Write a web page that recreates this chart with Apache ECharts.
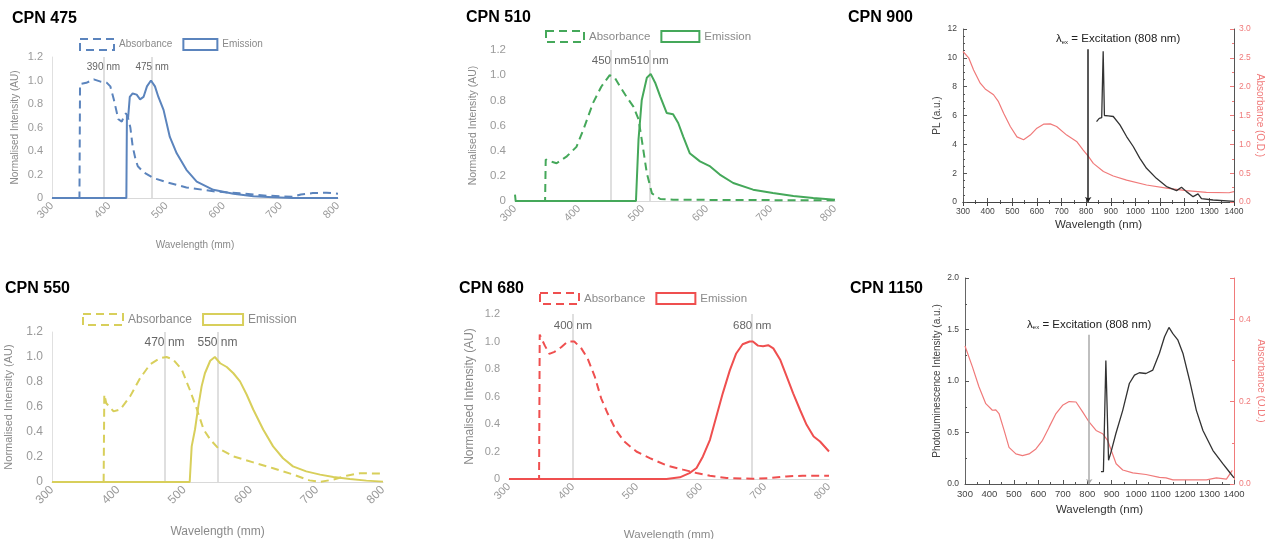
<!DOCTYPE html>
<html>
<head>
<meta charset="utf-8">
<title>CPN spectra</title>
<script src="https://cdn.jsdelivr.net/npm/echarts@6/dist/echarts.min.js"></script>
<style>
  html, body { margin: 0; padding: 0; background: #fff; }
  #page { position: relative; width: 1265px; height: 539px; overflow: hidden; }
  .panel { position: absolute; }
</style>
</head>
<body>
<div id="page">
  <div class="panel" id="cpn475" style="left:0;top:0;width:420px;height:268px"></div>
  <div class="panel" id="cpn510" style="left:420px;top:0;width:420px;height:268px"></div>
  <div class="panel" id="cpn900" style="left:840px;top:0;width:425px;height:268px"></div>
  <div class="panel" id="cpn550" style="left:0;top:270px;width:420px;height:269px"></div>
  <div class="panel" id="cpn680" style="left:420px;top:270px;width:420px;height:269px"></div>
  <div class="panel" id="cpn1150" style="left:840px;top:270px;width:425px;height:269px"></div>
</div>
<script>
// [wavelength, value] pairs
const abs475 = [[300,0],[348,0],[349,0.97],[360,0.98],[373,1.01],[385,0.99],[396,0.98],[402,0.95],[408,0.84],[416,0.67],[422,0.65],[426,0.70],[429,0.72],[432,0.70],[437,0.6],[441,0.44],[446,0.33],[450,0.27],[460,0.22],[477,0.17],[500,0.135],[535,0.09],[582,0.057],[628,0.04],[675,0.02],[721,0.01],[735,0.03],[756,0.042],[780,0.045],[800,0.037]];
const em475 = [[300,0],[430,0],[431,0.71],[433,0.68],[436,0.86],[441,0.89],[448,0.88],[454,0.84],[460,0.86],[466,0.95],[473,1.0],[480,0.95],[486,0.86],[495,0.75],[506,0.52],[518,0.38],[535,0.24],[553,0.14],[582,0.07],[617,0.037],[652,0.014],[687,0.006],[721,0],[800,0]];
const peaks475 = [390, 475];

const abs510 = [[300,0],[347,0],[348,0.33],[352,0.32],[365,0.30],[381,0.355],[396,0.43],[407,0.57],[422,0.78],[435,0.91],[448,1.0],[456,0.98],[464,0.91],[474,0.83],[485,0.75],[493,0.65],[498,0.49],[506,0.22],[514,0.06],[527,0.016],[547,0.01],[800,0.005]];
const em510 = [[300,0.05],[301,0],[489,0],[493,0.49],[498,0.8],[506,0.98],[512,1.01],[519,0.94],[527,0.83],[537,0.7],[547,0.69],[555,0.62],[563,0.51],[573,0.38],[589,0.315],[605,0.275],[620,0.21],[641,0.143],[672,0.09],[703,0.064],[735,0.04],[766,0.024],[800,0.01]];
const peaks510 = [450, 510];

const abs550 = [[300,0],[378,0],[379,0.7],[382,0.63],[393,0.565],[403,0.58],[418,0.685],[433,0.83],[448,0.94],[463,0.99],[473,1.0],[483,0.98],[496,0.9],[508,0.74],[519,0.58],[529,0.42],[539,0.34],[551,0.27],[574,0.205],[604,0.157],[634,0.11],[664,0.06],[689,0.013],[705,0],[725,0.02],[745,0.05],[765,0.07],[800,0.067]];
const em550 = [[300,0],[508,0],[511,0.285],[516,0.42],[521,0.605],[526,0.765],[531,0.87],[539,0.97],[546,1.0],[554,0.95],[564,0.92],[574,0.87],[584,0.805],[594,0.7],[604,0.58],[619,0.42],[634,0.285],[649,0.19],[664,0.125],[684,0.085],[705,0.059],[725,0.04],[750,0.024],[775,0.011],[800,0.003]];
const peaks550 = [470, 550];

const abs680 = [[300,0],[347,0],[348,1.05],[356,0.97],[363,0.91],[371,0.925],[382,0.96],[392,1.0],[402,1.0],[413,0.95],[423,0.875],[434,0.745],[444,0.587],[454,0.478],[467,0.357],[480,0.273],[499,0.2],[520,0.152],[546,0.099],[572,0.068],[593,0.043],[614,0.024],[640,0.007],[681,0.002],[707,0.007],[733,0.019],[759,0.024],[800,0.024]];
const em680 = [[300,0],[546,0],[567,0.012],[582,0.043],[593,0.08],[603,0.164],[614,0.285],[624,0.454],[634,0.623],[645,0.79],[655,0.913],[665,0.98],[676,1.0],[681,1.0],[689,0.97],[697,0.966],[705,0.973],[713,0.95],[724,0.865],[734,0.744],[744,0.623],[755,0.5],[765,0.394],[776,0.309],[786,0.273],[800,0.2]];
const peaks680 = [400, 680];

const abs900 = [[300,2.61],[323,2.5],[343,2.29],[370,2.06],[390,1.96],[424,1.86],[444,1.74],[465,1.54],[492,1.31],[519,1.13],[546,1.08],[573,1.16],[600,1.28],[627,1.35],[654,1.355],[680,1.31],[721,1.16],[761,1.05],[788,0.9],[809,0.79],[829,0.67],[870,0.53],[910,0.45],[964,0.38],[1045,0.295],[1126,0.24],[1207,0.197],[1288,0.168],[1380,0.16],[1400,0.18]];
const pl900 = [[842,5.58],[853,5.8],[863,5.85],[869,10.45],[874,6.0],[890,5.98],[910,5.93],[937,5.35],[964,4.54],[991,3.85],[1018,3.03],[1045,2.34],[1085,1.64],[1126,1.07],[1167,0.79],[1187,1.02],[1207,0.72],[1234,0.37],[1254,0.56],[1268,0.23],[1315,0.14],[1400,0.05]];

const abs1150 = [[300,0.335],[330,0.285],[357,0.236],[385,0.195],[412,0.179],[426,0.18],[439,0.171],[460,0.13],[480,0.089],[508,0.073],[535,0.069],[562,0.073],[590,0.085],[617,0.106],[644,0.138],[672,0.171],[699,0.191],[726,0.2],[754,0.199],[781,0.175],[808,0.15],[836,0.13],[863,0.122],[883,0.106],[918,0.049],[945,0.034],[986,0.027],[1040,0.023],[1095,0.016],[1122,0.015],[1150,0.01],[1204,0.01],[1287,0.01],[1328,0.015],[1369,0.012],[1393,0.033]];
const pl1150 = [[856,0.12],[866,0.12],[870,0.13],[876,1.2],[882,1.2],[887,0.23],[897,0.31],[917,0.49],[945,0.715],[972,0.976],[993,1.057],[1013,1.08],[1040,1.073],[1068,1.106],[1095,1.27],[1116,1.43],[1134,1.52],[1150,1.46],[1170,1.40],[1191,1.27],[1218,1.01],[1246,0.715],[1273,0.52],[1314,0.325],[1355,0.195],[1382,0.114],[1400,0.06]];

const excitation = 808;
const font = 'Liberation Sans, Arial, Helvetica, sans-serif';

// excel style panels (normalised absorbance / emission)
function excelChart(id, o) {
  const dash = [8, 5];
  echarts.init(document.getElementById(id)).setOption({
    animation: false,
    textStyle: { fontFamily: font },
    title: { text: o.title, left: o.titleLeft, top: o.titleTop, padding: 0, textStyle: { fontSize: 16, fontWeight: 'bold', color: '#000', fontFamily: font } },
    legend: {
      left: o.legendLeft, top: o.legendTop, padding: 0,
      itemWidth: o.iconW, itemHeight: 11, itemGap: 10,
      textStyle: { color: '#8a8a8a', fontSize: o.legFs },
      data: [
        { name: 'Absorbance', icon: 'rect', itemStyle: { color: 'rgba(0,0,0,0)', borderColor: o.color, borderWidth: 2, borderType: dash } },
        { name: 'Emission', icon: 'rect', itemStyle: { color: 'rgba(0,0,0,0)', borderColor: o.color, borderWidth: 2, borderType: 'solid' } }
      ]
    },
    grid: { left: o.grid[0], top: o.grid[1], width: o.grid[2], height: o.grid[3], outerBoundsMode: 'none' },
    xAxis: {
      type: 'value', min: 300, max: 800, interval: 100,
      axisLine: { show: true, lineStyle: { color: '#d9d9d9', width: 1 } },
      axisTick: { show: false }, splitLine: { show: false },
      axisLabel: { rotate: 45, color: '#9a9a9a', fontSize: o.xFs, margin: 6 },
      name: o.xName, nameLocation: 'middle', nameGap: o.xNameGap, nameMoveOverlap: false,
      nameTextStyle: { color: '#8a8a8a', fontSize: o.xNameFs }
    },
    yAxis: {
      type: 'value', min: 0, max: 1.2, interval: 0.2,
      axisLine: { show: o.yLine, lineStyle: { color: '#e0e0e0' } },
      axisTick: { show: false }, splitLine: { show: false },
      axisLabel: { color: '#9a9a9a', fontSize: o.yFs, margin: 9, formatter: v => v === 0 ? '0' : v.toFixed(1) },
      name: 'Normalised Intensity (AU)', nameLocation: 'middle', nameGap: o.yNameGap, nameMoveOverlap: false,
      nameTextStyle: { color: '#8a8a8a', fontSize: o.yNameFs }
    },
    series: [
      {
        name: 'Absorbance', type: 'line', data: o.abs, symbol: 'none',
        lineStyle: { color: o.color, width: 2, type: dash }, itemStyle: { color: o.color },
        markLine: {
          silent: true, symbol: 'none', z: 1, label: { show: false },
          lineStyle: { color: '#d4d4d4', width: 1.5, type: 'solid' },
          data: o.peaks.map(w => [{ coord: [w, 0] }, { coord: [w, 1.2] }])
        },
        markPoint: {
          silent: true, symbol: 'circle', symbolSize: 1,
          itemStyle: { color: 'rgba(0,0,0,0)' },
          label: { show: true, position: 'inside', formatter: '{b}', color: '#666', fontSize: o.legFs },
          data: o.peaks.map(w => ({ name: w + ' nm', coord: [w, 1.115] }))
        }
      },
      {
        name: 'Emission', type: 'line', data: o.em, symbol: 'none', z: 3,
        lineStyle: { color: o.color, width: 2 }, itemStyle: { color: o.color }
      }
    ]
  });
}

// origin style panels (PL + absorbance on twin axes)
function originChart(id, o) {
  const red = '#f07a7a';
  const xAxes = [{
    type: 'value', min: 300, max: 1400, interval: 100, position: 'bottom',
    axisLine: { lineStyle: { color: '#555' } },
    axisTick: { inside: true, length: 4, lineStyle: { color: '#555' } },
    minorTick: { show: true, splitNumber: 2, length: 2, lineStyle: { color: '#555' } },
    splitLine: { show: false },
    axisLabel: { color: '#444', fontSize: o.xFs, margin: 5, formatter: v => String(v) },
    name: 'Wavelength (nm)', nameLocation: 'middle', nameGap: o.xNameGap, nameMoveOverlap: false,
    nameTextStyle: { color: '#333', fontSize: 11.5 }
  }];
  if (o.topAxis) {
    xAxes.push({
      type: 'value', min: 300, max: 1400, interval: 100, position: 'top',
      axisLine: { lineStyle: { color: '#444' } },
      axisTick: { inside: true, length: 4 }, minorTick: { show: true, splitNumber: 2, length: 2 },
      axisLabel: { show: false }, splitLine: { show: false }
    });
  }
  echarts.init(document.getElementById(id)).setOption({
    animation: false,
    textStyle: { fontFamily: font },
    title: { text: o.title, left: o.titleLeft, top: o.titleTop, padding: 0, textStyle: { fontSize: 16, fontWeight: 'bold', color: '#000', fontFamily: font } },
    grid: { left: o.grid[0], top: o.grid[1], width: o.grid[2], height: o.grid[3], outerBoundsMode: 'none' },
    xAxis: xAxes,
    yAxis: [
      {
        type: 'value', min: 0, max: o.plMax, interval: o.plStep, position: 'left',
        axisLine: { show: true, lineStyle: { color: '#666' } },
        axisTick: { inside: true, length: 4, lineStyle: { color: '#555' } },
        minorTick: { show: true, splitNumber: o.plMinor, length: 2, lineStyle: { color: '#555' } },
        splitLine: { show: false },
        axisLabel: { color: '#444', fontSize: 8.5, margin: 6, formatter: o.plFmt },
        name: o.plName, nameLocation: 'middle', nameGap: o.yNameGap, nameMoveOverlap: false,
        nameTextStyle: { color: '#444', fontSize: 10 }
      },
      {
        type: 'value', min: 0, max: o.absMax, interval: o.absStep, position: 'right',
        axisLine: { show: true, lineStyle: { color: o.rightLine } },
        axisTick: { inside: true, length: 4, lineStyle: { color: red } },
        minorTick: { show: true, splitNumber: 2, length: 2, lineStyle: { color: red } },
        splitLine: { show: false },
        axisLabel: { color: red, fontSize: 8.5, margin: 5, showMaxLabel: o.absShowMax, formatter: v => v.toFixed(1) },
        name: 'Absorbance (O.D.)', nameLocation: 'middle', nameGap: o.absNameGap, nameRotate: -90, nameMoveOverlap: false,
        nameTextStyle: { color: red, fontSize: 10 }
      }
    ],
    series: [
      {
        name: 'Absorbance', type: 'line', data: o.abs, yAxisIndex: 1, symbol: 'none',
        lineStyle: { color: red, width: 1.2 }, itemStyle: { color: red }
      },
      {
        name: 'PL', type: 'line', data: o.pl, yAxisIndex: 0, symbol: 'none', z: 3,
        lineStyle: { color: '#333', width: 1.3 }, itemStyle: { color: '#333' },
        markLine: {
          silent: true, symbol: ['none', 'arrow'], symbolSize: 5,
          lineStyle: { color: o.exColor, width: 1.5, type: 'solid' },
          label: {
            position: 'start', distance: 4, offset: o.exOffset,
            formatter: '{a|λ}{b|ex}{a| = Excitation (808 nm)}',
            rich: {
              a: { fontSize: 11.5, color: '#222', verticalAlign: 'bottom' },
              b: { fontSize: 6, color: '#222', verticalAlign: 'bottom' }
            }
          },
          data: [[{ coord: [excitation, o.exTop] }, { coord: [excitation, 0] }]]
        }
      }
    ]
  });
}

excelChart('cpn475', {
  title: 'CPN 475', titleLeft: 12, titleTop: 11, color: '#5b84bd',
  legendLeft: 79, legendTop: 38, iconW: 34, legFs: 10,
  grid: [52, 57, 286, 141], yLine: true, xFs: 11, yFs: 11,
  xName: 'Wavelength (mm)', xNameGap: 42, xNameFs: 10, yNameGap: 32, yNameFs: 10,
  abs: abs475, em: em475, peaks: peaks475
});
excelChart('cpn510', {
  title: 'CPN 510', titleLeft: 46, titleTop: 10, color: '#45a85a',
  legendLeft: 125, legendTop: 30, iconW: 38, legFs: 11.5,
  grid: [95, 50, 320, 151], yLine: false, xFs: 11, yFs: 11.5,
  xName: '', xNameGap: 44, xNameFs: 11, yNameGap: 36, yNameFs: 10.5,
  abs: abs510, em: em510, peaks: peaks510
});
excelChart('cpn550', {
  title: 'CPN 550', titleLeft: 5, titleTop: 11, color: '#d8cf5b',
  legendLeft: 82, legendTop: 43, iconW: 40, legFs: 12,
  grid: [52, 62, 331, 150], yLine: true, xFs: 12, yFs: 12,
  xName: 'Wavelength (mm)', xNameGap: 44, xNameFs: 12, yNameGap: 38, yNameFs: 11,
  abs: abs550, em: em550, peaks: peaks550
});
excelChart('cpn680', {
  title: 'CPN 680', titleLeft: 39, titleTop: 11, color: '#ef4f4f',
  legendLeft: 119, legendTop: 22, iconW: 39, legFs: 11.5,
  grid: [89, 44, 320, 165], yLine: false, xFs: 11, yFs: 11,
  xName: 'Wavelength (mm)', xNameGap: 50, xNameFs: 11.5, yNameGap: 33, yNameFs: 12,
  abs: abs680, em: em680, peaks: peaks680
});
originChart('cpn900', {
  title: 'CPN 900', titleLeft: 8, titleTop: 10,
  grid: [123, 29, 271, 173], topAxis: true, xFs: 8.5,
  plMax: 12, plStep: 2, plMinor: 4, plFmt: v => String(v), plName: 'PL (a.u.)',
  absMax: 3, absStep: 0.5, absShowMax: true, rightLine: '#555',
  xNameGap: 17, yNameGap: 21, absNameGap: 21,
  exTop: 10.6, exColor: '#222', exOffset: [30, 0],
  abs: abs900, pl: pl900
});
originChart('cpn1150', {
  title: 'CPN 1150', titleLeft: 10, titleTop: 11,
  grid: [125, 8, 269, 206], topAxis: false, xFs: 9.5,
  plMax: 2, plStep: 0.5, plMinor: 2, plFmt: v => v.toFixed(1), plName: 'Photoluminescence Intensity (a.u.)',
  absMax: 0.5, absStep: 0.2, absShowMax: false, rightLine: '#f07a7a',
  xNameGap: 20, yNameGap: 23, absNameGap: 22,
  exTop: 1.45, exColor: '#aaa', exOffset: [0, 0],
  abs: abs1150, pl: pl1150
});
</script>
</body>
</html>
